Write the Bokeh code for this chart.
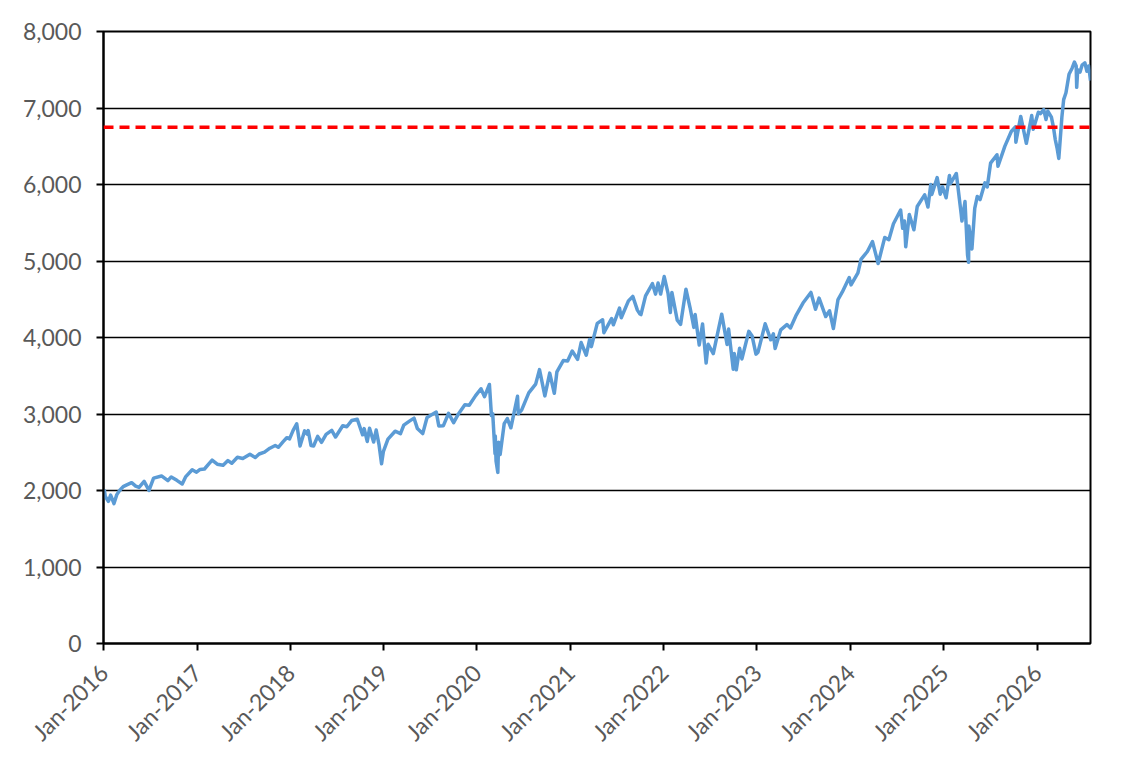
from datetime import datetime
import math
from bokeh.plotting import figure
from bokeh.models import Range1d, FixedTicker, DatetimeTickFormatter, NumeralTickFormatter, Span, ColumnDataSource
from bokeh.embed import file_html
from bokeh.resources import INLINE

# ---- data ----
dates = [
    "2016-01-04","2016-01-08","2016-01-20","2016-01-29","2016-02-11","2016-02-22","2016-03-04","2016-03-18",
    "2016-04-01","2016-04-20","2016-05-06","2016-05-19","2016-06-08","2016-06-27","2016-07-15","2016-08-15",
    "2016-09-09","2016-09-22","2016-10-14","2016-11-04","2016-11-18","2016-12-13","2016-12-30",
    "2017-01-13","2017-01-30","2017-02-17","2017-03-01","2017-03-21","2017-04-13","2017-05-02","2017-05-17",
    "2017-06-08","2017-06-29","2017-07-27","2017-08-17","2017-09-01","2017-09-22","2017-10-13","2017-11-03",
    "2017-11-15","2017-12-04","2017-12-18","2017-12-29",
    "2018-01-12","2018-01-26","2018-02-08","2018-02-26","2018-03-08","2018-03-12","2018-03-23","2018-04-02",
    "2018-04-18","2018-05-03","2018-05-21","2018-06-12","2018-06-27","2018-07-25","2018-08-10","2018-08-29",
    "2018-09-20","2018-10-11","2018-10-17","2018-10-29","2018-11-07","2018-11-23","2018-12-03","2018-12-14",
    "2018-12-24","2018-12-31",
    "2019-01-18","2019-02-15","2019-03-08","2019-03-21","2019-04-12","2019-04-30","2019-05-13","2019-06-03",
    "2019-06-20","2019-07-26","2019-08-05","2019-08-23","2019-09-12","2019-10-02","2019-10-18","2019-11-15",
    "2019-12-02","2019-12-27",
    "2020-01-17","2020-01-31","2020-02-19","2020-02-27","2020-03-03","2020-03-12","2020-03-13","2020-03-16",
    "2020-03-23","2020-03-26","2020-04-01","2020-04-17","2020-04-29","2020-05-13","2020-06-08","2020-06-11",
    "2020-06-24","2020-07-22","2020-08-18","2020-09-02","2020-09-23","2020-10-12","2020-10-30","2020-11-09",
    "2020-12-04","2020-12-21","2021-01-08",
    "2021-01-29","2021-02-12","2021-03-04","2021-03-17","2021-03-24","2021-04-16","2021-05-07","2021-05-12",
    "2021-06-11","2021-06-18","2021-07-12","2021-07-19","2021-08-16","2021-09-02","2021-09-20","2021-09-30",
    "2021-10-04","2021-10-22","2021-11-18","2021-11-30","2021-12-10","2021-12-20","2022-01-03",
    "2022-01-18","2022-01-27","2022-02-02","2022-02-23","2022-03-08","2022-03-29","2022-04-14","2022-04-29",
    "2022-05-04","2022-05-20","2022-06-02","2022-06-16","2022-06-24","2022-07-14","2022-08-16","2022-09-06",
    "2022-09-12","2022-09-30","2022-10-04","2022-10-12","2022-10-25","2022-11-03","2022-11-30","2022-12-13",
    "2022-12-28",
    "2023-01-05","2023-02-02","2023-02-24","2023-03-06","2023-03-13","2023-04-04","2023-04-28","2023-05-12",
    "2023-06-02","2023-06-30","2023-07-31","2023-08-18","2023-09-01","2023-09-27","2023-10-12","2023-10-27",
    "2023-11-14","2023-12-01","2023-12-28",
    "2024-01-04","2024-01-31","2024-02-12","2024-03-08","2024-03-28","2024-04-19","2024-05-15","2024-05-31",
    "2024-06-18","2024-07-16","2024-07-24","2024-07-31","2024-08-05","2024-08-19","2024-09-06","2024-09-19",
    "2024-10-18","2024-10-31","2024-11-11","2024-11-15","2024-12-06","2024-12-18","2024-12-27","2025-01-10",
    "2025-01-23","2025-01-27","2025-02-19","2025-03-10","2025-03-13","2025-03-25","2025-04-04","2025-04-08",
    "2025-04-09","2025-04-21","2025-05-02","2025-05-12","2025-05-23","2025-06-11","2025-06-20","2025-07-03",
    "2025-07-28","2025-08-01","2025-08-28","2025-09-22","2025-10-08","2025-10-10","2025-10-29","2025-11-20",
    "2025-12-11","2025-12-17","2026-01-06",
    "2026-01-14","2026-01-27","2026-02-05","2026-02-12","2026-02-26","2026-03-06","2026-03-13","2026-03-20",
    "2026-03-27","2026-03-31","2026-04-08","2026-04-15","2026-04-24","2026-05-06","2026-05-18","2026-05-27",
    "2026-06-03","2026-06-05","2026-06-09","2026-06-18","2026-06-26","2026-07-07","2026-07-15","2026-07-22",
    "2026-07-29",
]
values = [
    2012,1922,1859,1940,1829,1946,2000,2050,
    2073,2102,2057,2040,2119,2001,2162,2190,
    2128,2177,2133,2085,2182,2271,2239,
    2275,2281,2351,2396,2344,2329,2391,2357,
    2434,2419,2475,2431,2477,2502,2553,2588,
    2565,2639,2690,2674,
    2786,2873,2581,2780,2738,2783,2588,2582,
    2708,2630,2733,2786,2699,2846,2833,2914,
    2931,2728,2809,2641,2814,2633,2790,2600,
    2351,2507,
    2671,2775,2743,2855,2907,2946,2812,2744,
    2954,3025,2844,2847,3009,2887,2986,3120,
    3114,3240,
    3330,3226,3386,2979,3003,2481,2711,2386,
    2237,2630,2471,2875,2940,2820,3232,3002,
    3050,3276,3390,3580,3237,3534,3270,3550,
    3699,3694,3824,
    3714,3934,3768,3974,3881,4185,4232,4063,
    4247,4166,4384,4258,4479,4537,4358,4308,
    4300,4545,4704,4567,4712,4568,4797,
    4577,4326,4589,4225,4170,4631,4392,4132,
    4300,3901,4177,3667,3912,3790,4305,3909,
    4110,3586,3791,3577,3859,3720,4080,4019,
    3783,
    3808,4179,3970,4048,3855,4100,4169,4124,
    4282,4450,4589,4370,4515,4274,4349,4117,
    4496,4595,4783,
    4688,4846,5022,5124,5254,4967,5308,5278,
    5487,5667,5427,5522,5186,5608,5408,5713,
    5865,5705,6001,5870,6090,5872,5970,5827,
    6119,6012,6144,5614,5522,5777,5074,4983,
    5457,5158,5687,5844,5803,6022,5968,6279,
    6389,6238,6502,6693,6753,6552,6890,6538,
    6901,6721,6944,
    6926,6978,6850,6960,6880,6750,6590,6480,
    6340,6520,6880,7110,7200,7440,7520,7600,
    7550,7270,7500,7470,7560,7590,7480,7550,
    7360,
]
tick_years = list(range(2016, 2027))
y_ticks = [0, 1000, 2000, 3000, 4000, 5000, 6000, 7000, 8000]
reference_level = 6750
x_start = "2016-01-01"
x_end = "2026-07-29"

# ---- figure ----
xs = [datetime.strptime(d, "%Y-%m-%d") for d in dates]
src = ColumnDataSource(dict(x=xs, y=values))

p = figure(
    x_axis_type="datetime",
    frame_width=987, frame_height=612,
    min_border_left=103, min_border_right=30, min_border_top=31, min_border_bottom=108,
    output_backend="svg", toolbar_location=None,
    background_fill_color="white", border_fill_color="white",
)
p.x_range = Range1d(datetime.strptime(x_start, "%Y-%m-%d"), datetime.strptime(x_end, "%Y-%m-%d"))
p.y_range = Range1d(0, 8000)

font = "Lato"
lab_color = "#595959"

p.xaxis.ticker = FixedTicker(ticks=[datetime(y, 1, 1).timestamp() * 1000 for y in tick_years])
p.xaxis.formatter = DatetimeTickFormatter(years="%b-%Y", months="%b-%Y", days="%b-%Y")
p.xaxis.major_label_orientation = math.pi / 4
p.yaxis.ticker = FixedTicker(ticks=y_ticks)
p.yaxis.formatter = NumeralTickFormatter(format="0,0")

for ax in (p.xaxis[0], p.yaxis[0]):
    ax.axis_line_color = "black"
    ax.axis_line_width = 2
    ax.major_tick_line_color = "black"
    ax.major_tick_line_width = 2
    ax.major_tick_out = 7
    ax.major_tick_in = 0
    ax.minor_tick_line_color = None
    ax.major_label_text_font = font
    ax.major_label_text_font_size = "23px"
    ax.major_label_text_color = lab_color
p.yaxis.major_label_standoff = 15
p.xaxis.major_label_standoff = 18

p.xgrid.grid_line_color = None
p.ygrid.grid_line_color = "black"
p.ygrid.grid_line_width = 1.6

p.outline_line_color = "black"
p.outline_line_width = 2
p.outline_line_alpha = 1

p.line("x", "y", source=src, line_color="#5B9BD5", line_width=3.5, line_join="round")

p.add_layout(Span(location=reference_level, dimension="width", line_color="#FF0000",
                  line_width=3.5, line_dash="10 6"))

open("out.html", "w").write(file_html(p, INLINE))
